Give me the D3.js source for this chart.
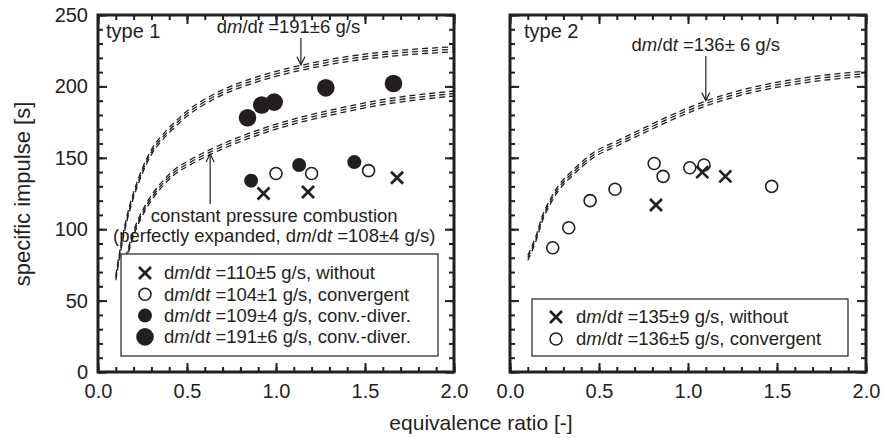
<!DOCTYPE html>
<html>
<head>
<meta charset="utf-8">
<script src="https://cdn.jsdelivr.net/npm/d3@7"></script>
<style>
  body { margin: 0; background: #fff; }
  svg { font-family: "Liberation Sans", Arial, sans-serif; }
</style>
</head>
<body>
<svg id="chart" width="882" height="438"></svg>
<script>
// data: [equivalence ratio, specific impulse]
const t1Without = [[0.93, 125], [1.18, 126], [1.68, 136]];
const t1Convergent = [[1.00, 139], [1.20, 139], [1.52, 141]];
const t1CD109 = [[0.86, 134], [1.13, 145], [1.44, 147]];
const t1CD191 = [[0.84, 178], [0.92, 187], [0.99, 189], [1.28, 199], [1.66, 202]];

const t2Without = [[0.82, 117], [1.08, 140], [1.21, 137]];
const t2Convergent = [[0.24, 87], [0.33, 101], [0.45, 120], [0.59, 128], [0.81, 146],
  [0.86, 137], [1.01, 143], [1.09, 145], [1.47, 130]];

// theory curves (dashed bands)
const curve191 = [[0.10, 66], [0.13, 88], [0.16, 106], [0.20, 124], [0.25, 141], [0.30, 154],
  [0.36, 164], [0.43, 173], [0.50, 181], [0.57, 187], [0.72, 197], [0.87, 204], [1.02, 209.5],
  [1.14, 213], [1.32, 217.5], [1.51, 221], [1.70, 223.5], [2.00, 226]];
const curve108 = [[0.14, 72], [0.17, 85], [0.20, 97], [0.27, 116], [0.35, 130], [0.42, 139],
  [0.52, 147], [0.63, 154], [0.84, 165], [1.06, 174], [1.32, 182], [1.60, 189], [2.00, 195]];
const curve136 = [[0.10, 80], [0.15, 95], [0.18, 107], [0.225, 119], [0.28, 130], [0.34, 138],
  [0.40, 145], [0.47, 152], [0.60, 160], [0.75, 169], [0.94, 180], [1.10, 188], [1.31, 196],
  [1.54, 202], [1.76, 206], [2.00, 209]];

const xMajor = [0, 0.5, 1.0, 1.5, 2.0];
const yMajor = [0, 50, 100, 150, 200, 250];

const legend1 = [
  { sym: "x", text: " =110\u00b15 g/s, without" },
  { sym: "open", text: " =104\u00b11 g/s, convergent" },
  { sym: "small", text: " =109\u00b14 g/s, conv.-diver." },
  { sym: "big", text: " =191\u00b16 g/s, conv.-diver." }
];
const legend2 = [
  { sym: "x", text: " =135\u00b19 g/s, without" },
  { sym: "open", text: " =136\u00b15 g/s, convergent" }
];

const ink = "#231f20";
const svg = d3.select("#chart");
const plotTop = 15, plotBottom = 372, plotW = 356;

function dmdt(t, rest) {
  t.append("tspan").text("d");
  t.append("tspan").attr("font-style", "italic").text("m");
  t.append("tspan").text("/d");
  t.append("tspan").attr("font-style", "italic").text("t");
  t.append("tspan").text(rest);
}

function drawMarker(g, sym, cx, cy) {
  if (sym === "x") {
    const s = 6;
    g.append("path")
      .attr("d", `M${cx - s},${cy - s}L${cx + s},${cy + s}M${cx - s},${cy + s}L${cx + s},${cy - s}`)
      .attr("stroke", ink).attr("stroke-width", 2.7).attr("fill", "none");
  } else if (sym === "open") {
    g.append("circle").attr("cx", cx).attr("cy", cy).attr("r", 6)
      .attr("fill", "#fff").attr("stroke", ink).attr("stroke-width", 1.6);
  } else if (sym === "small") {
    g.append("circle").attr("cx", cx).attr("cy", cy).attr("r", 7).attr("fill", ink);
  } else {
    g.append("circle").attr("cx", cx).attr("cy", cy).attr("r", 8.8).attr("fill", ink);
  }
}

function panel(x0, opts) {
  const x = d3.scaleLinear().domain([0, 2]).range([x0, x0 + plotW]);
  const y = d3.scaleLinear().domain([0, 250]).range([plotBottom, plotTop]);
  const g = svg.append("g");

  // ticks on all four sides, pointing in
  const styleAxis = a => {
    a.select(".domain").remove();
    a.selectAll("line").attr("stroke", ink).attr("stroke-width", 2);
    a.selectAll("text").attr("fill", ink).style("font-size", "20px")
      .style("font-family", "'Liberation Sans', Arial, sans-serif");
  };
  g.append("g").attr("transform", `translate(0,${plotBottom})`)
    .call(d3.axisBottom(x).ticks(20).tickSize(-5).tickFormat("")).call(styleAxis);
  g.append("g").attr("transform", `translate(0,${plotBottom})`)
    .call(d3.axisBottom(x).tickValues(xMajor).tickSize(-9).tickPadding(12).tickFormat(d3.format(".1f")))
    .call(styleAxis);
  g.append("g").attr("transform", `translate(0,${plotTop})`)
    .call(d3.axisTop(x).ticks(20).tickSize(-5).tickFormat("")).call(styleAxis);
  g.append("g").attr("transform", `translate(0,${plotTop})`)
    .call(d3.axisTop(x).tickValues(xMajor).tickSize(-9).tickFormat("")).call(styleAxis);
  g.append("g").attr("transform", `translate(${x0},0)`)
    .call(d3.axisLeft(y).ticks(25).tickSize(-5).tickFormat("")).call(styleAxis);
  g.append("g").attr("transform", `translate(${x0},0)`)
    .call(d3.axisLeft(y).tickValues(yMajor).tickSize(-9).tickPadding(10)
      .tickFormat(opts.yLabels ? d3.format("d") : "")).call(styleAxis);
  g.append("g").attr("transform", `translate(${x0 + plotW},0)`)
    .call(d3.axisRight(y).ticks(25).tickSize(-5).tickFormat("")).call(styleAxis);
  g.append("g").attr("transform", `translate(${x0 + plotW},0)`)
    .call(d3.axisRight(y).tickValues(yMajor).tickSize(-9).tickFormat("")).call(styleAxis);

  g.append("rect").attr("x", x0).attr("y", plotTop).attr("width", plotW)
    .attr("height", plotBottom - plotTop).attr("fill", "none")
    .attr("stroke", ink).attr("stroke-width", 3);

  // dashed triple-line bands
  const line = d3.line().x(d => x(d[0])).y(d => y(d[1])).curve(d3.curveMonotoneX);
  opts.curves.forEach(c => {
    [-2.5, 0, 2.5].forEach(off => {
      g.append("path").datum(c)
        .attr("d", line)
        .attr("transform", `translate(0,${off})`)
        .attr("fill", "none").attr("stroke", ink).attr("stroke-width", 1.3)
        .attr("stroke-dasharray", "6,4");
    });
  });

  return { g, x, y };
}

function arrow(g, xp, yFrom, yTip) {
  g.append("line").attr("x1", xp).attr("x2", xp).attr("y1", yFrom).attr("y2", yTip)
    .attr("stroke", ink).attr("stroke-width", 1.2);
  const k = yFrom > yTip ? 8 : -8;
  g.append("path").attr("d", `M${xp - 4},${yTip + k}L${xp},${yTip}L${xp + 4},${yTip + k}`)
    .attr("fill", "none").attr("stroke", ink).attr("stroke-width", 1.2);
}

function legendBox(g, x1, y1, x2, y2, items, symX, textX, row0, rowStep) {
  g.append("rect").attr("x", x1).attr("y", y1).attr("width", x2 - x1).attr("height", y2 - y1)
    .attr("fill", "#fff").attr("stroke", ink).attr("stroke-width", 1.2);
  items.forEach((it, i) => {
    const cy = row0 + i * rowStep;
    drawMarker(g, it.sym, symX, cy);
    const t = g.append("text").attr("x", textX).attr("y", cy).attr("dy", "0.35em")
      .attr("fill", ink).style("font-size", "18.5px");
    dmdt(t, it.text);
  });
}

// ---- left panel: type 1
const p1 = panel(98, { yLabels: true, curves: [curve191, curve108] });
{
  const { g, x, y } = p1;
  g.append("text").attr("x", 106).attr("y", 31).attr("dy", "0.35em")
    .attr("fill", ink).style("font-size", "20px").text("type 1");
  const t = g.append("text").attr("x", x(1.07)).attr("y", 27).attr("dy", "0.35em")
    .attr("text-anchor", "middle").attr("fill", ink).style("font-size", "18.5px");
  dmdt(t, " =191\u00b16 g/s");
  arrow(g, x(1.14), 38, y(213) - 3);

  g.append("text").attr("x", x(0.99)).attr("y", 216).attr("dy", "0.35em")
    .attr("text-anchor", "middle").attr("fill", ink).style("font-size", "18.5px")
    .text("constant pressure combustion");
  const t2 = g.append("text").attr("x", x(0.99)).attr("y", 236).attr("dy", "0.35em")
    .attr("text-anchor", "middle").attr("fill", ink).style("font-size", "18.5px");
  t2.append("tspan").text("(perfectly expanded, ");
  dmdt(t2, " =108\u00b14 g/s)");
  arrow(g, x(0.63), 204, y(154) + 2);

  const pts = g.append("g");
  t1CD191.forEach(d => drawMarker(pts, "big", x(d[0]), y(d[1])));
  t1CD109.forEach(d => drawMarker(pts, "small", x(d[0]), y(d[1])));
  t1Convergent.forEach(d => drawMarker(pts, "open", x(d[0]), y(d[1])));
  t1Without.forEach(d => drawMarker(pts, "x", x(d[0]), y(d[1])));

  legendBox(g, 121, 254, 438, 356, legend1, 145, 164, 273, 21.3);
}

// ---- right panel: type 2
const p2 = panel(510, { yLabels: false, curves: [curve136] });
{
  const { g, x, y } = p2;
  g.append("text").attr("x", 524).attr("y", 31).attr("dy", "0.35em")
    .attr("fill", ink).style("font-size", "20px").text("type 2");
  const t = g.append("text").attr("x", x(1.10)).attr("y", 45).attr("dy", "0.35em")
    .attr("text-anchor", "middle").attr("fill", ink).style("font-size", "18.5px");
  dmdt(t, " =136\u00b1 6 g/s");
  arrow(g, x(1.10), 56, y(188) - 3);

  const pts = g.append("g");
  t2Convergent.forEach(d => drawMarker(pts, "open", x(d[0]), y(d[1])));
  t2Without.forEach(d => drawMarker(pts, "x", x(d[0]), y(d[1])));

  legendBox(g, 532, 299, 848, 356, legend2, 556, 576, 317, 22);
}

// axis titles
svg.append("text").attr("transform", "translate(22,194) rotate(-90)")
  .attr("text-anchor", "middle").attr("dy", "0.35em").attr("fill", ink)
  .style("font-size", "22px").text("specific impulse [s]");
svg.append("text").attr("x", 481).attr("y", 423).attr("dy", "0.35em")
  .attr("text-anchor", "middle").attr("fill", ink)
  .style("font-size", "21px").text("equivalence ratio [-]");
</script>
</body>
</html>
